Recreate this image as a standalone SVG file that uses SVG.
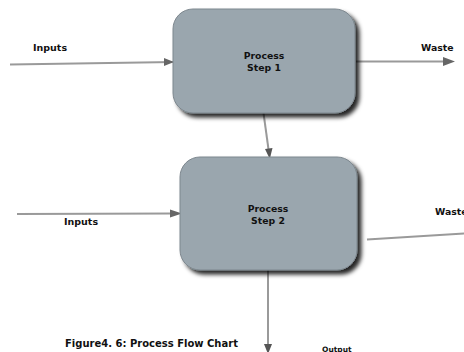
<svg xmlns="http://www.w3.org/2000/svg" width="464" height="352" viewBox="0 0 464 352">
<style>
.t{font-family:"DejaVu Sans",Verdana,sans-serif;font-weight:bold;fill:#111;}
.box{fill:#9aa6ae;stroke:#7d878e;stroke-width:1;filter:url(#sh);}
.c{fill:none;stroke:#9a9a9a;stroke-width:2;marker-end:url(#ah);}
</style>
<defs>
<filter id="sh" x="-10%" y="-10%" width="130%" height="130%">
<feDropShadow dx="4" dy="4" stdDeviation="2" flood-color="#000" flood-opacity="0.85"/>
</filter>
<marker id="ah" viewBox="0 0 10 10" refX="10" refY="5" markerWidth="5" markerHeight="5" orient="auto" markerUnits="userSpaceOnUse" >
<path d="M0,0 L10,5 L0,10 z" fill="#555"/>
</marker>
</defs>
<g id="connectors">
<path class="c" d="M10,64.5 L174,62" style="marker-end:none"/>
<path d="M164,58 L174,62 L164,66 z" fill="#666"/>
<path class="c" d="M356,61.5 L446,61.5" style="marker-end:none"/>
<path d="M443,57 L455,61.5 L443,66 z" fill="#666"/>
<path class="c" d="M263.5,113 L268.6,150" style="marker-end:none"/>
<path d="M265,149 L269.8,159 L272.5,148 z" fill="#555"/>
<path class="c" d="M17,214 L172,213.5" style="marker-end:none"/>
<path d="M170,209.5 L182,213.5 L170,217.5 z" fill="#666"/>
<path class="c" d="M367,239.5 L464,233.5" style="marker-end:none"/>
<path class="c" d="M268,270 L268,344" style="marker-end:none"/>
<path d="M264,344 L268,354 L272,344 z" fill="#555"/>
</g>
<g id="step1">
<rect class="box" x="173" y="9" width="182" height="104" rx="20" ry="20"/>
<text class="t" x="264" y="59" font-size="9.3" text-anchor="middle">Process</text>
<text class="t" x="264" y="71" font-size="9.3" text-anchor="middle">Step 1</text>
</g>
<g id="step2">
<rect class="box" x="180" y="157" width="177" height="113" rx="20" ry="20"/>
<text class="t" x="268" y="211.5" font-size="9.3" text-anchor="middle">Process</text>
<text class="t" x="268" y="223.5" font-size="9.3" text-anchor="middle">Step 2</text>
</g>
<g id="labels">
<text class="t" x="33" y="51" font-size="9.5">Inputs</text>
<text class="t" x="421" y="51" font-size="9.3">Waste</text>
<text class="t" x="64" y="225" font-size="9.5">Inputs</text>
<text class="t" x="435" y="215" font-size="9.3">Waste</text>
<text class="t" x="322" y="351.5" font-size="7.5">Output</text>
<text class="t" x="65" y="347" font-size="10">Figure4. 6: Process Flow Chart</text>
</g>
</svg>
